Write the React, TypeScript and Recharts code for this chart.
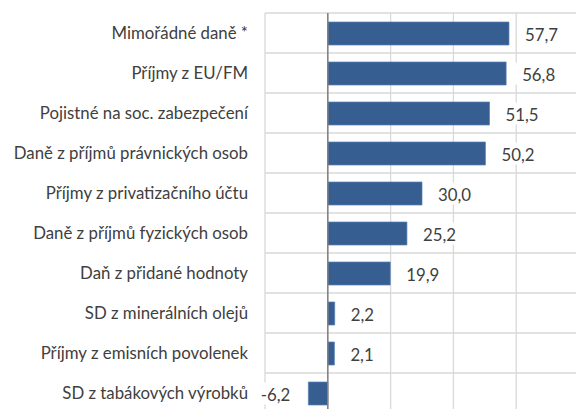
import React from "react";
import { BarChart, Bar, XAxis, YAxis, CartesianGrid, ReferenceLine, LabelList } from "recharts";

const categories = [
  "Mimořádné daně *",
  "Příjmy z EU/FM",
  "Pojistné na soc. zabezpečení",
  "Daně z příjmů právnických osob",
  "Příjmy z privatizačního účtu",
  "Daně z příjmů fyzických osob",
  "Daň z přidané hodnoty",
  "SD z minerálních olejů",
  "Příjmy z emisních povolenek",
  "SD z tabákových výrobků",
];
const values = [57.7, 56.8, 51.5, 50.2, 30.0, 25.2, 19.9, 2.2, 2.1, -6.2];
const xTicks = [-20, 0, 20, 40, 60, 80];

const data = categories.map((name, i) => ({ name, value: values[i] }));

const FONT = "Lato, 'Noto Sans', sans-serif";
const TEXT = "#404040";
const FS = 16.8;

const fmt = (v: number) => v.toFixed(1).replace(".", ",");

const ValueLabel = (props: any) => {
  const { x, y, width, height, value } = props;
  const left = Math.min(x, x + width);
  const right = Math.max(x, x + width);
  const cy = y + height / 2;
  const txt = fmt(Number(value));
  const tw = txt.length * 7.8;
  const neg = Number(value) < 0;
  const tx = neg ? left - 18 : right + 16;
  const boxX = neg ? tx - tw - 8 : tx - 8;
  return (
    <g>
      <rect x={boxX} y={cy - 11} width={tw + 16} height={22} fill="#ffffff" />
      <text
        x={tx}
        y={cy + 1}
        textAnchor={neg ? "end" : "start"}
        dominantBaseline="central"
        fontFamily={FONT}
        fontSize={FS}
        fill={TEXT}
      >
        {txt}
      </text>
    </g>
  );
};

const hGen = ({ offset }: any) => {
  const arr: number[] = [];
  for (let i = 0; i <= categories.length; i++) {
    arr.push(offset.top + (i * offset.height) / categories.length);
  }
  return arr;
};

export default function App() {
  return (
    <div style={{ position: "absolute", left: 0, top: 0, width: 576, height: 409, overflow: "hidden", background: "#fff" }}>
      <BarChart
        width={600}
        height={430}
        data={data}
        layout="vertical"
        margin={{ top: 13, right: 21, bottom: 17, left: 0 }}
        barSize={23}
      >
        <CartesianGrid
          stroke="#d9d9d9"
          strokeWidth={1.3}
          horizontalCoordinatesGenerator={hGen}
        />
        <XAxis type="number" domain={[-20, 80]} ticks={xTicks} hide />
        <YAxis
          type="category"
          dataKey="name"
          width={265}
          axisLine={false}
          tickLine={false}
          tickSize={0}
          tickMargin={17}
          interval={0}
          tick={{ fontFamily: FONT, fontSize: FS, fill: TEXT }}
        />
        <ReferenceLine x={0} stroke="#808080" strokeWidth={1.5} />
        <Bar dataKey="value" fill="#365E91" stroke="#5a80b4" strokeWidth={0.7} isAnimationActive={false}>
          <LabelList dataKey="value" content={ValueLabel} />
        </Bar>
      </BarChart>
    </div>
  );
}
